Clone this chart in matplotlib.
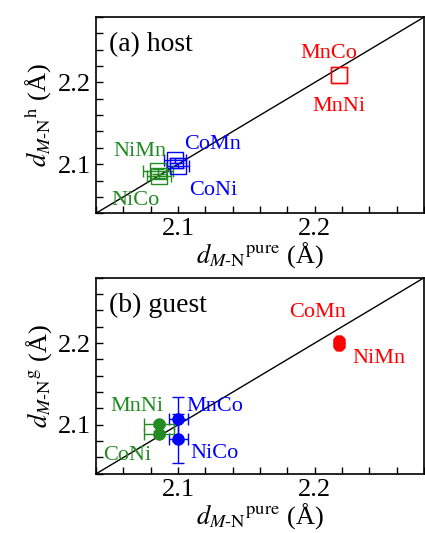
import numpy as np
import matplotlib
matplotlib.use("Agg")
import matplotlib.pyplot as plt
from matplotlib.ticker import MultipleLocator

plt.rcParams["font.family"] = ["Liberation Serif", "DejaVu Serif"]
plt.rcParams["mathtext.fontset"] = "stix"

RED = "#ff0000"
GREEN = "#228b22"
BLUE = "#0000ff"

# (a) host -- open squares
host_names = ["MnCo", "MnNi", "CoMn", "CoNi", "NiMn", "NiCo"]
host_x = [2.2175, 2.2175, 2.098, 2.100, 2.085, 2.086]
host_y = [2.2095, 2.2085, 2.105, 2.098, 2.0915, 2.0855]
host_xerr = [0.0, 0.0, 0.008, 0.008, 0.011, 0.009]
host_yerr = [0.0, 0.0, 0.003, 0.003, 0.003, 0.003]
host_colors = [RED, RED, BLUE, BLUE, GREEN, GREEN]

# (b) guest -- filled circles
guest_names = ["CoMn", "NiMn", "MnCo", "NiCo", "MnNi", "CoNi"]
guest_x = [2.2175, 2.2175, 2.100, 2.100, 2.086, 2.086]
guest_y = [2.2025, 2.1975, 2.107, 2.083, 2.101, 2.089]
guest_xerr = [0.002, 0.002, 0.007, 0.007, 0.011, 0.011]
guest_yerr = [0.002, 0.002, 0.027, 0.030, 0.003, 0.003]
guest_colors = [RED, RED, BLUE, BLUE, GREEN, GREEN]

# text label positions (data coords)
host_lab_x = [2.210, 2.218, 2.125, 2.126, 2.072, 2.069]
host_lab_y = [2.235, 2.171, 2.124, 2.068, 2.115, 2.056]
guest_lab_x = [2.202, 2.247, 2.127, 2.127, 2.070, 2.063]
guest_lab_y = [2.237, 2.181, 2.123, 2.065, 2.122, 2.063]

lims = [2.04, 2.28]

fig = plt.figure(figsize=(4.25, 5.33), dpi=100)
ax1 = fig.add_axes([0.226, 0.600, 0.772, 0.368])
ax2 = fig.add_axes([0.226, 0.111, 0.772, 0.368])

panels = [
    (ax1, host_names, host_x, host_y, host_xerr, host_yerr, host_colors,
     host_lab_x, host_lab_y, "(a) host", "h", "s"),
    (ax2, guest_names, guest_x, guest_y, guest_xerr, guest_yerr, guest_colors,
     guest_lab_x, guest_lab_y, "(b) guest", "g", "o"),
]

for ax, names, xs, ys, xe, ye, cols, lx, ly, title, sup, mk in panels:
    ax.plot(lims, lims, color="black", lw=1.0, zorder=1)
    for i in range(len(names)):
        # no error bar drawn when the error is zero
        xerr = xe[i] if xe[i] > 0 else None
        yerr = ye[i] if ye[i] > 0 else None
        if mk == "s":
            ax.errorbar(xs[i], ys[i], xerr=xerr, yerr=yerr, fmt="s", ms=11,
                        mfc="none", mec=cols[i], mew=1.0, ecolor=cols[i],
                        elinewidth=1.0, capsize=4, capthick=1.0, zorder=3)
        else:
            ax.errorbar(xs[i], ys[i], xerr=xerr, yerr=yerr, fmt="o", ms=8,
                        mfc=cols[i], mec=cols[i], ecolor=cols[i],
                        elinewidth=1.0, capsize=4, capthick=1.0, zorder=3)
        ax.text(lx[i], ly[i], names[i], color=cols[i], fontsize=16,
                ha="center", va="center")
    ax.text(0.04, 0.86, title, transform=ax.transAxes, fontsize=20,
            ha="left", va="center")
    ax.set_xlim(lims)
    ax.set_ylim(lims)
    ax.xaxis.set_major_locator(MultipleLocator(0.1))
    ax.xaxis.set_minor_locator(MultipleLocator(0.02))
    ax.yaxis.set_major_locator(MultipleLocator(0.1))
    ax.yaxis.set_minor_locator(MultipleLocator(0.02))
    ax.tick_params(which="both", direction="in", top=False, right=False,
                   labelsize=19, width=1.0, length=5)
    for s in ax.spines.values():
        s.set_linewidth(1.2)
    ax.set_xlabel(r"$d_{M\text{-}\mathrm{N}}{}^{\mathrm{pure}}$ (Å)",
                  fontsize=19, labelpad=0)
    ax.set_ylabel(r"$d_{M\text{-}\mathrm{N}}{}^{\mathrm{%s}}$ (Å)" % sup,
                  fontsize=19, labelpad=3)

fig.savefig("out.png", dpi=100)
